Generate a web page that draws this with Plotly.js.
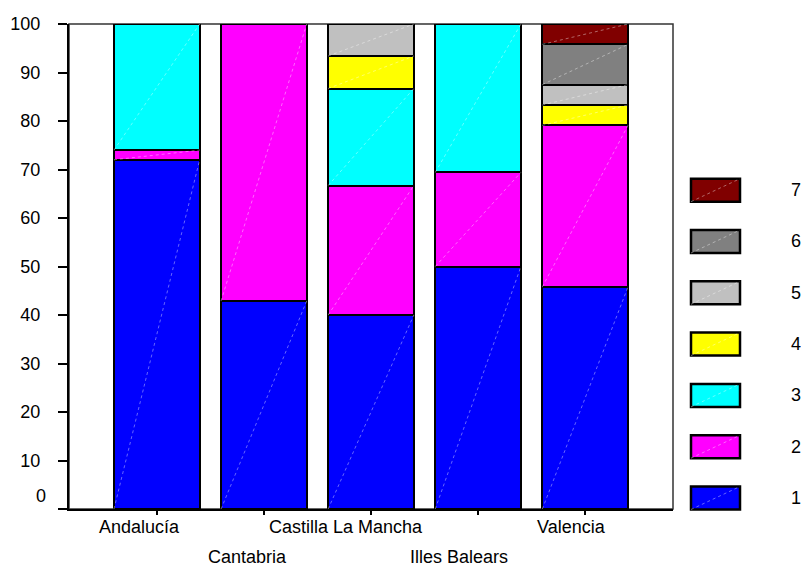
<!DOCTYPE html>
<html>
<head>
<meta charset="utf-8">
<script src="https://cdn.plot.ly/plotly-3.0.1.min.js"></script>
<style>html,body{margin:0;padding:0;background:#fff;}#chart{width:801px;height:566px;}</style>
</head>
<body>
<div id="chart"></div>
<script>
// ---- data ----
const categories = ['Andalucía', 'Cantabria', 'Castilla La Mancha', 'Illes Balears', 'Valencia'];
const seriesNames = ['1', '2', '3', '4', '5', '6', '7'];
const s1 = [72.0, 42.9, 40.0, 50.0, 45.8];
const s2 = [2.0, 57.1, 26.7, 19.4, 33.3];
const s3 = [26.0, 0, 20.0, 30.6, 0];
const s4 = [0, 0, 6.7, 0, 4.2];
const s5 = [0, 0, 6.6, 0, 4.2];
const s6 = [0, 0, 0, 0, 8.3];
const s7 = [0, 0, 0, 0, 4.2];
const yTickVals = [0, 10, 20, 30, 40, 50, 60, 70, 80, 90, 100];

// ---- styles ----
const colors = ['#0000FF', '#FF00FF', '#00FFFF', '#FFFF00', '#C0C0C0', '#808080', '#800000'];
const series = [s1, s2, s3, s4, s5, s6, s7];
const FONT = 'Arial, "Liberation Sans", Helvetica, sans-serif';
const W = 801, H = 566;
const M = {l: 69, r: 128, t: 24, b: 57};
const PW = W - M.l - M.r, PH = H - M.t - M.b;
const pxX = p => (p - M.l) / PW;
const pxY = p => (H - M.b - p) / PH;
const barWidthFrac = 0.8;

const traces = series.map((vals, k) => ({
  type: 'bar',
  name: seriesNames[k],
  x: categories,
  y: vals.map(v => v === 0 ? null : v),
  marker: {color: colors[k], line: {color: '#000', width: 2}},
  hoverinfo: 'x+y+name'
}));

const shapes = [];
// plot frame (top / right)
shapes.push({type: 'rect', xref: 'paper', yref: 'paper', x0: 0, x1: 1, y0: 0, y1: 1,
  line: {color: '#333', width: 1.5}, layer: 'below'});
// faint diagonals inside each bar segment
const diagLine = {color: 'rgba(255,255,255,0.4)', width: 1, dash: 'dot'};
categories.forEach((c, i) => {
  let base = 0;
  series.forEach((vals) => {
    const v = vals[i];
    if (v > 0) {
      shapes.push({type: 'line', xref: 'x', yref: 'y',
        x0: i - barWidthFrac / 2, y0: base, x1: i + barWidthFrac / 2, y1: base + v,
        line: diagLine, layer: 'above'});
      base += v;
    }
  });
});

const annotations = [];
// custom legend (large swatches)
const legX0 = 691, legX1 = 740, legH = 23, legBottomC = 498, legStep = 51.3;
seriesNames.forEach((n, k) => {
  const cy = legBottomC - legStep * k;
  shapes.push({type: 'rect', xref: 'paper', yref: 'paper',
    x0: pxX(legX0), x1: pxX(legX1), y0: pxY(cy + legH / 2), y1: pxY(cy - legH / 2),
    fillcolor: colors[k], line: {color: '#000', width: 2.5}});
  shapes.push({type: 'line', xref: 'paper', yref: 'paper',
    x0: pxX(legX0), x1: pxX(legX1), y0: pxY(cy + legH / 2), y1: pxY(cy - legH / 2),
    line: diagLine});
  annotations.push({xref: 'paper', yref: 'paper', x: pxX(789), y: pxY(cy),
    xanchor: 'left', yanchor: 'middle', text: n, showarrow: false,
    font: {family: FONT, size: 18, color: '#000'}});
});

// staggered category labels
const labelShift = [-17, -16, -25, -19, -14];
categories.forEach((c, i) => {
  annotations.push({xref: 'x', yref: 'paper', x: i, y: 0, xshift: labelShift[i],
    yshift: (i % 2 === 0) ? -17.5 : -47.5, xanchor: 'center', yanchor: 'middle',
    text: c, showarrow: false, font: {family: FONT, size: 18, color: '#000'}});
});
// "0" label sits above the baseline
annotations.push({xref: 'paper', yref: 'y', x: pxX(48), y: 0, yshift: 13,
  xanchor: 'right', yanchor: 'middle', text: String(yTickVals[0]), showarrow: false,
  font: {family: FONT, size: 18, color: '#000'}});

const layout = {
  width: W, height: H,
  margin: {l: M.l, r: M.r, t: M.t, b: M.b, pad: 0},
  paper_bgcolor: '#fff', plot_bgcolor: '#fff',
  barmode: 'stack', bargap: 1 - barWidthFrac,
  showlegend: false,
  font: {family: FONT, size: 18, color: '#000'},
  xaxis: {
    type: 'category', range: [-0.82, 4.82], showgrid: false, zeroline: false,
    showline: true, linecolor: '#000', linewidth: 2,
    ticks: 'outside', ticklen: 4, tickwidth: 2, tickcolor: '#000',
    showticklabels: false, fixedrange: true
  },
  yaxis: {
    range: [0, 100], showgrid: false, zeroline: false,
    showline: true, linecolor: '#000', linewidth: 2,
    ticks: 'outside', ticklen: 9, tickwidth: 2, tickcolor: '#000',
    tickvals: yTickVals, ticktext: yTickVals.map(v => v === 0 ? '' : String(v)),
    tickfont: {family: FONT, size: 18, color: '#000'}, ticklabelstandoff: 14,
    fixedrange: true
  },
  shapes: shapes,
  annotations: annotations
};

Plotly.newPlot('chart', traces, layout, {displayModeBar: false, staticPlot: true});
</script>
</body>
</html>
